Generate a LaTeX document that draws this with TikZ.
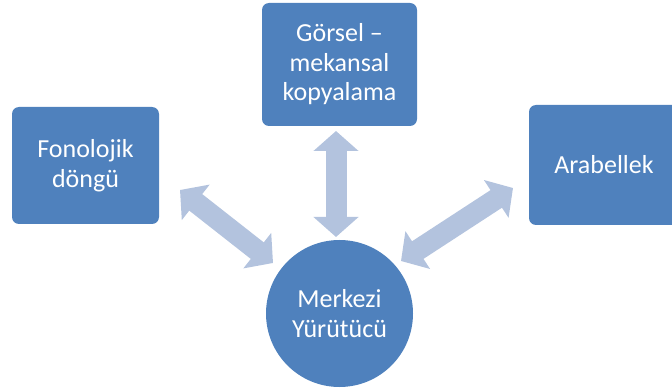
\documentclass[tikz,border=0pt]{standalone}
\usepackage{fontspec}
\setmainfont{Carlito}
\usetikzlibrary{arrows.meta}
\definecolor{BoxBlue}{HTML}{4F81BD}
\definecolor{ArrowBlue}{HTML}{B3C3DE}

\begin{document}
\begin{tikzpicture}[x=1pt,y=-1pt,
    every node/.style={font=\fontsize{26}{29.5}\selectfont, text=white, align=center},
    box/.style={rectangle, rounded corners=7pt, fill=BoxBlue, inner sep=0pt},
    biarrow/.style={ArrowBlue, line width=21pt,
      {Triangle[width=44pt,length=20pt]}-{Triangle[width=44pt,length=20pt]}}]
  \useasboundingbox (0,0) rectangle (672,390);
  \clip (0,0) rectangle (672,390);
  % boxes
  \node[box, minimum width=147pt, minimum height=117pt]
    (fono) at (85.5,165.5) {Fonolojik\\döngü};
  \node[box, minimum width=155pt, minimum height=123pt]
    (gorsel) at (339.5,64.5) {Görsel –\\mekansal\\kopyalama};
  \node[box, minimum width=150pt, minimum height=120pt]
    (arabellek) at (604,165) {Arabellek};
  \node[circle, fill=BoxBlue, minimum size=147pt, inner sep=0pt]
    (merkezi) at (339.5,313.5) {Merkezi\\Yürütücü};
  % arrow ends
  \coordinate (fono-end) at (180,190);
  \coordinate (merkezi-l) at (273,263);
  \coordinate (gorsel-end) at (336,131);
  \coordinate (merkezi-t) at (336,237);
  \coordinate (arabellek-end) at (513,188);
  \coordinate (merkezi-r) at (401,261);
  \draw[biarrow] (fono-end) -- (merkezi-l);
  \draw[biarrow] (gorsel-end) -- (merkezi-t);
  \draw[biarrow] (arabellek-end) -- (merkezi-r);
\end{tikzpicture}
\end{document}
